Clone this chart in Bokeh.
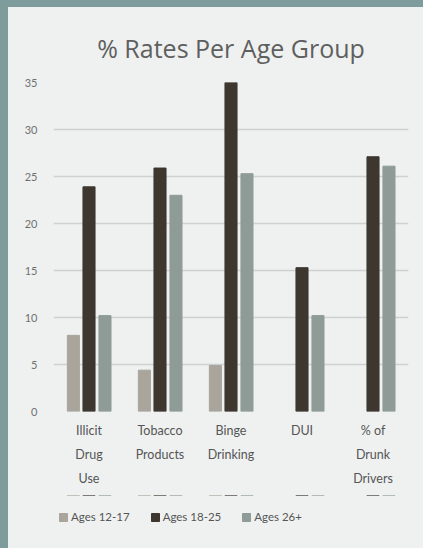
import numpy as np
from bokeh.plotting import figure
from bokeh.models import ColumnDataSource, FactorRange, Range1d, Legend, LegendItem, FixedTicker
from bokeh.transform import dodge
from bokeh.layouts import column
from bokeh.embed import file_html
from bokeh.resources import INLINE

# Survey categories and percentage rates per age group
categories = ["Illicit\nDrug\nUse", "Tobacco\nProducts", "Binge\nDrinking", "DUI", "% of\nDrunk\nDrivers"]
ages_12_17 = [8.1, 4.4, 4.9, np.nan, np.nan]
ages_18_25 = [23.9, 25.9, 35.0, 15.3, 27.1]
ages_26_plus = [10.2, 23.0, 25.3, 10.2, 26.1]
series_labels = ["Ages 12-17", "Ages 18-25", "Ages 26+"]
y_ticks = [0, 5, 10, 15, 20, 25, 30, 35]

FONT = "Lato"
PANEL = "#eef1f0"
FRAME_COLOR = "#7e9c9c"
COLORS = ["#a9a59c", "#3d3730", "#8f9b97"]
OFFSETS = [-0.22, 0.0, 0.225]
COLUMNS = ["a", "b", "c"]

source = ColumnDataSource(data=dict(
    cat=categories,
    a=np.array(ages_12_17, dtype=float),
    b=np.array(ages_18_25, dtype=float),
    c=np.array(ages_26_plus, dtype=float),
))

p = figure(
    x_range=FactorRange(*categories, range_padding=0),
    y_range=Range1d(0, 35),
    width=415, height=488,
    output_backend="svg", toolbar_location=None,
    title="% Rates Per Age Group",
    min_border_left=45, min_border_right=15,
    min_border_top=75, min_border_bottom=84,
    margin=(7, 0, 0, 8),
)
p.background_fill_color = PANEL
p.border_fill_color = PANEL
p.outline_line_color = None

p.title.align = "center"
p.title.text_font = "Open Sans"
p.title.text_font_size = "25px"
p.title.text_font_style = "normal"
p.title.text_color = "#5f5f5f"
p.title.standoff = 36

for col, off, color in zip(COLUMNS, OFFSETS, COLORS):
    p.vbar(x=dodge("cat", off, range=p.x_range), top=col, width=0.17,
           source=source, color=color)

# axes
p.xaxis.axis_line_color = None
p.xaxis.major_tick_line_color = None
p.xaxis.minor_tick_line_color = None
p.xaxis.major_label_text_font = FONT
p.xaxis.major_label_text_font_size = "12.5px"
p.xaxis.major_label_text_color = "#555555"
p.xaxis.major_label_text_line_height = 1.6
p.xaxis.major_label_standoff = 5

p.yaxis.ticker = FixedTicker(ticks=y_ticks)
p.yaxis.axis_line_color = None
p.yaxis.major_tick_line_color = None
p.yaxis.minor_tick_line_color = None
p.yaxis.major_label_text_font = FONT
p.yaxis.major_label_text_font_size = "11px"
p.yaxis.major_label_text_color = "#707070"
p.yaxis.major_label_standoff = 10

p.xgrid.grid_line_color = None
p.ygrid.grid_line_color = "#cdd1cf"
p.ygrid.grid_line_width = 1.5

# legend strip underneath the chart; its bars sit above the visible
# y window, so only their legend swatches show
lg = figure(
    width=415, height=53,
    x_range=FactorRange(*categories, range_padding=0),
    y_range=Range1d(-2, -1),
    x_axis_type=None, y_axis_type=None,
    output_backend="svg", toolbar_location=None,
    min_border=0, margin=(0, 0, 0, 8),
)
lg.background_fill_color = PANEL
lg.border_fill_color = PANEL
lg.outline_line_color = None

items = []
for label, col, off, color in zip(series_labels, COLUMNS, OFFSETS, COLORS):
    swatch = lg.vbar(x=dodge("cat", off, range=lg.x_range), top=col, width=0.17,
                     source=source, color=color)
    items.append(LegendItem(label=label, renderers=[swatch]))

legend = Legend(
    items=items,
    orientation="horizontal",
    location=(5, 25),
    border_line_color=None,
    background_fill_alpha=0,
    glyph_width=10, glyph_height=10,
    label_standoff=3, spacing=20,
    label_text_font=FONT, label_text_font_size="11.5px",
    label_text_color="#555555",
    padding=0, margin=0,
)
lg.add_layout(legend, "center")

layout = column(p, lg, spacing=0, styles={
    "background-color": PANEL,
    "box-shadow": "inset 8px 7px 0 0 " + FRAME_COLOR,
})

open("out.html", "w").write(file_html(layout, INLINE))
